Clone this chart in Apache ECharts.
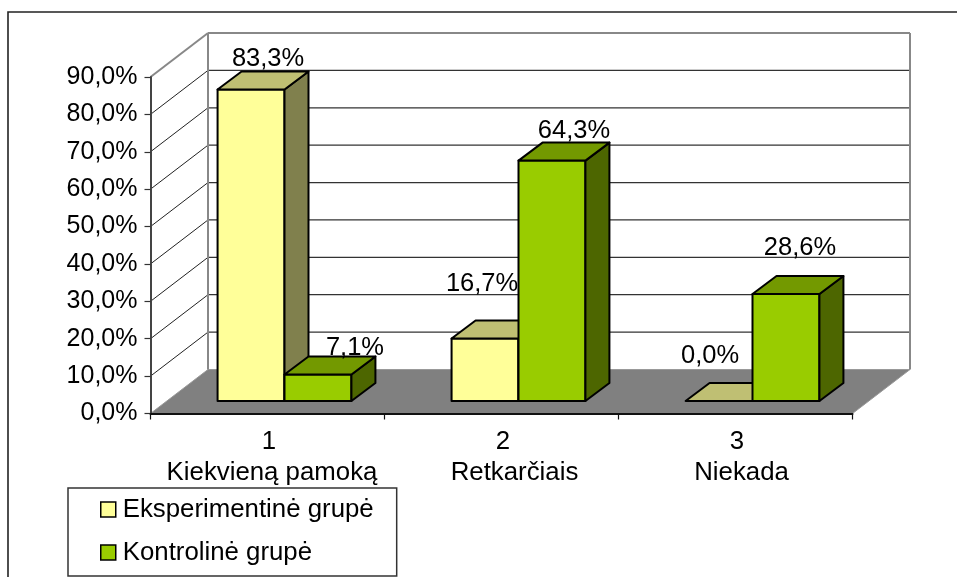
<!DOCTYPE html>
<html>
<head>
<meta charset="utf-8">
<style>
  html, body { margin: 0; padding: 0; background: #fff; }
  #chart-container { width: 957px; height: 577px; }
</style>
<script src="https://cdn.jsdelivr.net/npm/echarts@6/dist/echarts.min.js"></script>
</head>
<body>
<div id="chart-container"></div>
<script>
const categoryNumbers = ["1", "2", "3"];
const categories = ["Kiekvieną pamoką", "Retkarčiais", "Niekada"];
const experimentalValues = [83.3, 16.7, 0.0];
const controlValues = [7.1, 64.3, 28.6];
const valueTicks = [0, 10, 20, 30, 40, 50, 60, 70, 80, 90];
const seriesNames = ["Eksperimentinė grupė", "Kontrolinė grupė"];

// 3d look, px
const wallDx = 57.5, wallDy = 44;
const barShiftX = 17, barShiftY = 12.5;
const barDx = 24, barDy = 18;
const barWidthRatio = 0.286;
const fontFamily = "Liberation Sans";

const expColors = { front: "#FFFF99", top: "#BFBF73", side: "#80804D" };
const ctlColors = { front: "#99CC00", top: "#739900", side: "#4D6600" };

// label centre relative to the top middle of the bar front
const expLabelOffset = [[17, -31], [-3, -55], [-9, -45.5]];
const ctlLabelOffset = [[37, -26], [22, -30], [14, -46]];

function fmt(v) {
    return v.toFixed(1).replace(".", ",") + "%";
}

function poly(points, fill) {
    return {
        type: "polygon",
        shape: { points: points },
        style: { fill: fill, stroke: "#000", lineWidth: 2, lineJoin: "round" }
    };
}

function wallLine(x1, y1, x2, y2, color, width) {
    return {
        type: "line",
        shape: { x1: x1, y1: y1, x2: x2, y2: y2 },
        style: { stroke: color, lineWidth: width, fill: null }
    };
}

function renderWalls(params, api) {
    const band = api.size([1, 0])[0];
    const v = api.value(0);
    const p = api.coord([0, v]);
    const left = p[0] - band / 2;
    const right = api.coord([2, v])[0] + band / 2;
    const y = p[1];
    const kids = [];
    if (v === 0) {
        kids.push({
            type: "polygon",
            shape: { points: [[left, y], [left + wallDx, y - wallDy], [right + wallDx, y - wallDy], [right, y]] },
            style: { fill: "#808080", stroke: "#999", lineWidth: 1 }
        });
        return { type: "group", children: kids };
    }
    if (v === 90) {
        const bottom = api.coord([0, 0])[1] - wallDy;
        kids.push(wallLine(left, y, left + wallDx, y - wallDy, "#888", 2));
        kids.push(wallLine(left + wallDx, y - wallDy, right + wallDx, y - wallDy, "#888", 2));
        kids.push(wallLine(left + wallDx, y - wallDy, left + wallDx, bottom, "#888", 2));
        kids.push(wallLine(right + wallDx, y - wallDy, right + wallDx, bottom, "#888", 2));
        return { type: "group", children: kids };
    }
    kids.push(wallLine(left, y, left + wallDx, y - wallDy, "#222", 1));
    kids.push(wallLine(left + wallDx, y - wallDy, right + wallDx, y - wallDy, "#333", 1.3));
    return { type: "group", children: kids };
}

function makeBarRender(side, colors, offsets) {
    return function (params, api) {
        const i = api.value(0);
        const val = api.value(1);
        const band = api.size([1, 0])[0];
        const w = band * barWidthRatio;
        const top = api.coord([i, val]);
        const base = api.coord([i, 0]);
        const x1 = top[0] + barShiftX + (side < 0 ? -w : 0);
        const x2 = x1 + w;
        const yT = top[1] - barShiftY;
        const yB = base[1] - barShiftY;
        const kids = [];
        if (val > 0) {
            kids.push(poly([[x1, yB], [x2, yB], [x2, yT], [x1, yT]], colors.front));
            kids.push(poly([[x2, yB], [x2 + barDx, yB - barDy], [x2 + barDx, yT - barDy], [x2, yT]], colors.side));
        }
        kids.push(poly([[x1, yT], [x2, yT], [x2 + barDx, yT - barDy], [x1 + barDx, yT - barDy]], colors.top));
        kids.push({
            type: "text",
            z2: 50,
            style: {
                text: fmt(val),
                x: (x1 + x2) / 2 + offsets[i][0],
                y: yT + offsets[i][1],
                align: "center",
                verticalAlign: "middle",
                fill: "#000",
                font: "25.5px " + fontFamily
            }
        });
        return { type: "group", children: kids };
    };
}

var dom = document.getElementById("chart-container");
var myChart = echarts.init(dom, null, { renderer: "canvas" });

// the second label line sits a bit right of the tick centre, left padding pushes it
function nameStyle(shift) {
    return { fontSize: 25.8, lineHeight: 31, color: "#000", fontFamily: fontFamily, padding: [0, 0, 0, shift * 2] };
}

var option = {
    animation: false,
    backgroundColor: "#fff",
    textStyle: { fontFamily: fontFamily },
    graphic: [
        // outer frame, only top and left show in the crop
        {
            type: "polyline",
            silent: true,
            shape: { points: [[8, 577], [8, 12], [957, 12]] },
            style: { stroke: "#222", lineWidth: 1.6, fill: null }
        }
    ],
    grid: { left: 150.5, top: 77, width: 702, height: 336.5 },
    xAxis: {
        type: "category",
        data: categories,
        z: 5,
        axisLine: { lineStyle: { color: "#111", width: 2 } },
        axisTick: { show: true, length: 6, lineStyle: { color: "#111", width: 1.2 } },
        axisLabel: {
            margin: 13,
            interval: 0,
            formatter: function (value, index) {
                return "{d|" + categoryNumbers[index] + "}\n{n" + index + "|" + value + "}";
            },
            rich: {
                d: nameStyle(1.5),
                n0: nameStyle(4.5),
                n1: nameStyle(13),
                n2: nameStyle(6)
            }
        }
    },
    yAxis: {
        type: "value",
        min: 0,
        max: 90,
        interval: 10,
        z: 5,
        axisLine: { show: true, lineStyle: { color: "#444", width: 2 } },
        axisTick: { show: true, length: 6, lineStyle: { color: "#333", width: 1.2 } },
        splitLine: { show: false },
        axisLabel: { color: "#000", fontSize: 25, margin: 13, fontFamily: fontFamily, formatter: fmt }
    },
    legend: {
        orient: "vertical",
        left: 68,
        top: 488,
        height: 200,
        padding: [8.5, 23, 10.5, 32],
        itemWidth: 15,
        itemHeight: 15,
        itemGap: 17,
        icon: "rect",
        backgroundColor: "#fff",
        borderColor: "#333",
        borderWidth: 1.5,
        borderRadius: 0,
        data: seriesNames,
        selectedMode: false,
        itemStyle: { borderColor: "#000", borderWidth: 1.5 },
        textStyle: { color: "#000", fontSize: 25.8, lineHeight: 16, padding: [0, 0, 0, 2], fontFamily: fontFamily }
    },
    series: [
        {
            type: "custom",
            name: "walls",
            silent: true,
            data: valueTicks.map(function (t) { return [t]; }),
            encode: { y: 0 },
            renderItem: renderWalls,
            z: 1
        },
        {
            type: "custom",
            name: seriesNames[0],
            itemStyle: { color: expColors.front },
            data: experimentalValues.map(function (v, i) { return [i, v]; }),
            encode: { x: 0, y: 1 },
            renderItem: makeBarRender(-1, expColors, expLabelOffset),
            z: 2
        },
        {
            type: "custom",
            name: seriesNames[1],
            itemStyle: { color: ctlColors.front },
            data: controlValues.map(function (v, i) { return [i, v]; }),
            encode: { x: 0, y: 1 },
            renderItem: makeBarRender(1, ctlColors, ctlLabelOffset),
            z: 3
        }
    ]
};

myChart.setOption(option);
window.addEventListener("resize", () => myChart.resize());
</script>
</body>
</html>
